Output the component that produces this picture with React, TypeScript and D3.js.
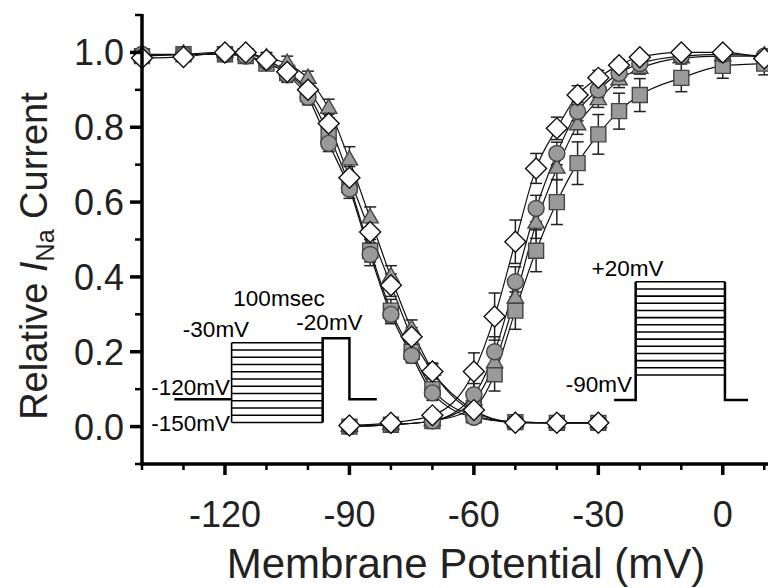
import React from "react";
import * as d3 from "d3";

// membrane potentials (mV)
const inactV = [-140, -130, -120, -115, -110, -105, -100, -95, -90, -85, -80, -75, -70, -60, -50, -40, -30];
const actV = [-90, -80, -70, -60, -55, -50, -45, -40, -35, -30, -25, -20, -10, 0, 10];

// steady-state inactivation (relative INa)
const inactSquare = [0.99, 0.995, 0.995, 0.99, 0.97, 0.945, 0.89, 0.78, 0.645, 0.47, 0.31, 0.2, 0.1, 0.03, 0.012, 0.01, 0.01];
const inactTriangle = [0.99, 0.995, 1.0, 0.995, 0.985, 0.97, 0.93, 0.85, 0.712, 0.557, 0.4, 0.26, 0.15, 0.04, 0.012, 0.01, 0.01];
const inactCircle = [0.995, 0.995, 0.995, 0.99, 0.975, 0.94, 0.88, 0.757, 0.635, 0.46, 0.3, 0.19, 0.09, 0.025, 0.012, 0.01, 0.01];
const inactDiamond = [0.985, 0.988, 1.0, 1.0, 0.98, 0.948, 0.9, 0.81, 0.665, 0.52, 0.378, 0.24, 0.147, 0.044, 0.01, 0.01, 0.01];

const inactSquareErr = [0.01, 0.01, 0.01, 0.01, 0.015, 0.02, 0.02, 0.025, 0.025, 0.03, 0.03, 0.025, 0.02, 0.015, 0.01, 0.01, 0.01];
const inactTriangleErr = [0.01, 0.01, 0.01, 0.01, 0.015, 0.02, 0.02, 0.025, 0.036, 0.03, 0.03, 0.025, 0.02, 0.015, 0.01, 0.01, 0.01];
const inactCircleErr = [0.01, 0.01, 0.01, 0.01, 0.015, 0.02, 0.02, 0.022, 0.025, 0.03, 0.025, 0.02, 0.02, 0.015, 0.01, 0.01, 0.01];
const inactDiamondErr = [0.01, 0.01, 0.01, 0.01, 0.015, 0.02, 0.02, 0.025, 0.03, 0.03, 0.03, 0.025, 0.02, 0.015, 0.01, 0.01, 0.01];

// activation (relative conductance)
const actSquare = [0.0, 0.005, 0.015, 0.05, 0.14, 0.31, 0.47, 0.6, 0.704, 0.781, 0.843, 0.886, 0.932, 0.964, 0.97];
const actTriangle = [0.0, 0.005, 0.015, 0.07, 0.17, 0.343, 0.543, 0.69, 0.806, 0.873, 0.926, 0.957, 0.985, 0.99, 0.99];
const actCircle = [0.0, 0.005, 0.015, 0.085, 0.2, 0.387, 0.583, 0.73, 0.842, 0.9, 0.944, 0.97, 0.99, 0.995, 0.99];
const actDiamond = [0.003, 0.01, 0.03, 0.147, 0.294, 0.494, 0.69, 0.797, 0.886, 0.932, 0.966, 0.987, 1.0, 1.0, 0.984];

const actSquareErr = [0.005, 0.01, 0.015, 0.03, 0.045, 0.05, 0.056, 0.06, 0.057, 0.053, 0.048, 0.044, 0.037, 0.033, 0.03];
const actTriangleErr = [0.005, 0.01, 0.015, 0.03, 0.04, 0.04, 0.04, 0.03, 0.025, 0.02, 0.02, 0.015, 0.01, 0.01, 0.01];
const actCircleErr = [0.005, 0.01, 0.015, 0.03, 0.04, 0.04, 0.035, 0.03, 0.025, 0.02, 0.02, 0.015, 0.01, 0.01, 0.01];
const actDiamondErr = [0.005, 0.01, 0.015, 0.05, 0.063, 0.058, 0.04, 0.03, 0.025, 0.02, 0.015, 0.01, 0.01, 0.01, 0.01];

const yTicks = [0, 0.2, 0.4, 0.6, 0.8, 1.0];
const xTicks = [-120, -90, -60, -30, 0];

// voltage protocol insets, placed in axis units
const inactProto = { holdStart: -132.2, boxLeft: -118.4, boxRight: -96.45, testRight: -90, tailEnd: -83.4,
  hold: 0.073, top: 0.224, bottom: 0.011, testTop: 0.236, steps: 12 };
const actProto = { holdStart: -26.2, boxLeft: -21, boxRight: 0.52, tailEnd: 6.1,
  hold: 0.071, top: 0.387, bottom: 0.138, steps: 14 };

const font = "'Liberation Sans', Arial, sans-serif";
const gray = "#9a9a9a";

export default function App() {
  const width = 768;
  const height = 588;
  const x = d3.scaleLinear().domain([-140, 10.9]).range([142, 768]);
  const y = d3.scaleLinear().domain([-0.1, 1.1]).range([464, 15]);

  const line = d3
    .line<[number, number]>()
    .x((d) => x(d[0]))
    .y((d) => y(d[1]))
    .curve(d3.curveMonotoneX);

  const shapes: Record<string, string> = {
    square: d3.symbol(d3.symbolSquare, 225)() as string,
    triangle: d3.symbol(d3.symbolTriangle, 115)() as string,
    circle: d3.symbol(d3.symbolCircle, 201)() as string,
    diamond: d3.symbol(d3.symbolSquare, 220)() as string,
  };

  const series = [
    { shape: "square", fill: gray, inact: inactSquare, inactErr: inactSquareErr, act: actSquare, actErr: actSquareErr },
    { shape: "triangle", fill: gray, inact: inactTriangle, inactErr: inactTriangleErr, act: actTriangle, actErr: actTriangleErr },
    { shape: "circle", fill: gray, inact: inactCircle, inactErr: inactCircleErr, act: actCircle, actErr: actCircleErr },
    { shape: "diamond", fill: "#ffffff", inact: inactDiamond, inactErr: inactDiamondErr, act: actDiamond, actErr: actDiamondErr },
  ];

  const points = (s: (typeof series)[number]) => [
    ...inactV.map((v, i) => ({ v, m: s.inact[i], e: s.inactErr[i] })),
    ...actV.map((v, i) => ({ v, m: s.act[i], e: s.actErr[i] })),
  ];

  const xMinor = d3.range(-140, 11, 10).filter((v) => !xTicks.includes(v));
  const yMinor = d3.range(-0.1, 1.15, 0.2);

  const ip = inactProto;
  const ap = actProto;
  const inactLines = d3.range(ip.steps).map((i) => ip.top + ((ip.bottom - ip.top) * i) / (ip.steps - 1));
  const actLines = d3.range(ap.steps).map((i) => ap.top + ((ap.bottom - ap.top) * i) / (ap.steps - 1));

  return (
    <svg
      width={width}
      height={height}
      style={{ position: "absolute", left: 0, top: 0, background: "#fff" }}
      fontFamily={font}
    >
      {/* fitted curves */}
      {series.map((s) => (
        <g key={"l" + s.shape} fill="none" stroke="#111" strokeWidth={1.2}>
          <path d={line(inactV.map((v, i) => [v, s.inact[i]] as [number, number])) || ""} />
          <path d={line(actV.map((v, i) => [v, s.act[i]] as [number, number])) || ""} />
        </g>
      ))}

      {/* error bars */}
      {series.map((s) => (
        <g key={"e" + s.shape} stroke="#222" strokeWidth={1.5}>
          {points(s).map((p, i) => (
            <g key={i}>
              <line x1={x(p.v)} x2={x(p.v)} y1={y(p.m - p.e)} y2={y(p.m + p.e)} />
              <line x1={x(p.v) - 6} x2={x(p.v) + 6} y1={y(p.m - p.e)} y2={y(p.m - p.e)} />
              <line x1={x(p.v) - 6} x2={x(p.v) + 6} y1={y(p.m + p.e)} y2={y(p.m + p.e)} />
            </g>
          ))}
        </g>
      ))}

      {/* markers */}
      {series.map((s) => (
        <g key={"m" + s.shape} fill={s.fill} stroke={s.shape === "diamond" ? "#111" : "#444"} strokeWidth={1.4}>
          {points(s).map((p, i) => (
            <path
              key={i}
              d={shapes[s.shape]}
              transform={`translate(${x(p.v)},${y(p.m)})${s.shape === "diamond" ? " rotate(45)" : ""}`}
            />
          ))}
        </g>
      ))}

      {/* inactivation protocol */}
      <g fill="none" stroke="#000">
        {inactLines.map((l, i) => (
          <line key={i} x1={x(ip.boxLeft)} x2={x(ip.boxRight)} y1={y(l)} y2={y(l)} strokeWidth={1.6} />
        ))}
        <line x1={x(ip.boxLeft)} x2={x(ip.boxLeft)} y1={y(ip.top)} y2={y(ip.bottom)} strokeWidth={1.6} />
        <line x1={x(ip.holdStart)} x2={x(ip.boxLeft)} y1={y(ip.hold)} y2={y(ip.hold)} strokeWidth={2.5} />
        <polyline
          strokeWidth={2.5}
          points={[
            [x(ip.boxRight), y(ip.bottom)],
            [x(ip.boxRight), y(ip.testTop)],
            [x(ip.testRight), y(ip.testTop)],
            [x(ip.testRight), y(ip.hold)],
            [x(ip.tailEnd), y(ip.hold)],
          ].join(" ")}
        />
      </g>
      <g fontSize={22.5} fill="#000">
        <text x={279} y={306} textAnchor="middle">100msec</text>
        <text x={216} y={336.5} textAnchor="middle">-30mV</text>
        <text x={329.5} y={330} textAnchor="middle">-20mV</text>
        <text x={230} y={395} textAnchor="end">-120mV</text>
        <text x={230} y={430.5} textAnchor="end">-150mV</text>
      </g>

      {/* activation protocol */}
      <g fill="none" stroke="#000">
        {actLines.map((l, i) => (
          <line key={i} x1={x(ap.boxLeft)} x2={x(ap.boxRight)} y1={y(l)} y2={y(l)} strokeWidth={1.6} />
        ))}
        <polyline
          strokeWidth={2.5}
          points={[
            [x(ap.holdStart), y(ap.hold)],
            [x(ap.boxLeft), y(ap.hold)],
            [x(ap.boxLeft), y(ap.top)],
          ].join(" ")}
        />
        <polyline
          strokeWidth={2.5}
          points={[
            [x(ap.boxRight), y(ap.top)],
            [x(ap.boxRight), y(ap.hold)],
            [x(ap.tailEnd), y(ap.hold)],
          ].join(" ")}
        />
      </g>
      <g fontSize={22.5} fill="#000">
        <text x={627.5} y={276} textAnchor="middle">+20mV</text>
        <text x={632} y={391.5} textAnchor="end">-90mV</text>
      </g>

      {/* axes */}
      <g stroke="#000">
        <line x1={142} x2={142} y1={y(1.1) - 1} y2={465.5} strokeWidth={3.5} />
        <line x1={140.5} x2={768} y1={464} y2={464} strokeWidth={3.5} />
        {yTicks.map((t) => (
          <line key={t} x1={130} x2={142} y1={y(t)} y2={y(t)} strokeWidth={3.5} />
        ))}
        {yMinor.map((t) => (
          <line key={t} x1={135} x2={142} y1={y(t)} y2={y(t)} strokeWidth={2.5} />
        ))}
        {xTicks.map((t) => (
          <line key={t} x1={x(t)} x2={x(t)} y1={464} y2={475} strokeWidth={3.5} />
        ))}
        {xMinor.map((t) => (
          <line key={t} x1={x(t)} x2={x(t)} y1={464} y2={470} strokeWidth={2.5} />
        ))}
      </g>
      <g fontSize={36} fill="#222">
        {yTicks.map((t) => (
          <text key={t} x={124} y={y(t) + 13} textAnchor="end">
            {d3.format(".1f")(t)}
          </text>
        ))}
        {xTicks.map((t) => (
          <text key={t} x={x(t)} y={527} textAnchor="middle">
            {String(t)}
          </text>
        ))}
      </g>
      <text x={466} y={578} textAnchor="middle" fontSize={42} fill="#222">
        Membrane Potential (mV)
      </text>
      <text transform="translate(47,256) rotate(-90)" textAnchor="middle" fontSize={38} fill="#222">
        Relative <tspan fontStyle="italic">I</tspan>
        <tspan fontSize={25} dy={7}>Na</tspan>
        <tspan dy={-7}> Current</tspan>
      </text>
    </svg>
  );
}
